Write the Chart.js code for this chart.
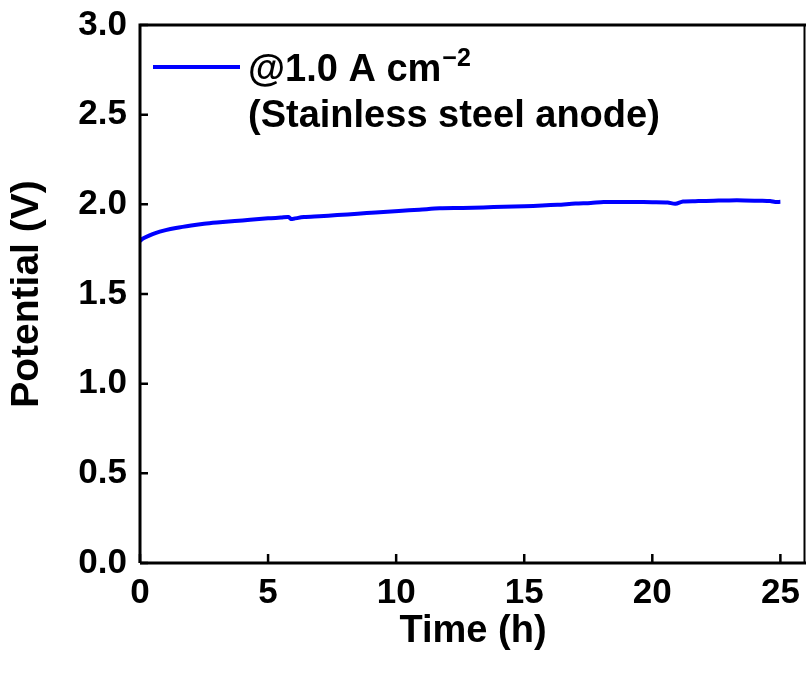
<!DOCTYPE html>
<html>
<head>
<meta charset="utf-8">
<script src="https://cdn.jsdelivr.net/npm/chart.js@4.4.1/dist/chart.umd.min.js"></script>
<style>
  html, body { margin: 0; padding: 0; background: #fff; }
  #wrap { width: 806px; height: 677px; }
</style>
</head>
<body>
<div id="wrap"><canvas id="myChart"></canvas></div>
<script>
// Chronopotentiometry at 1.0 A cm-2, stainless steel anode
var tiempo = [0, 0.1, 0.3, 0.6, 1.0, 1.4, 2.0, 2.5, 3.0, 3.7, 4.3, 5.0, 5.5, 5.8, 5.9, 6.0, 6.4, 7.0, 7.7, 8.5, 9.2, 10.1, 10.9, 11.7, 12.6, 13.4, 14.2, 15.0, 15.7, 16.3, 17.0, 17.6, 18.1, 18.7, 19.3, 20.0, 20.6, 20.9, 21.2, 21.8, 22.4, 23.0, 23.6, 24.2, 24.6, 24.8, 25.0];
var potencial = [1.796, 1.808, 1.822, 1.840, 1.856, 1.868, 1.882, 1.892, 1.899, 1.907, 1.914, 1.922, 1.926, 1.929, 1.918, 1.920, 1.929, 1.934, 1.940, 1.948, 1.955, 1.963, 1.970, 1.978, 1.980, 1.983, 1.987, 1.990, 1.993, 1.997, 2.004, 2.008, 2.013, 2.013, 2.013, 2.012, 2.010, 2.003, 2.016, 2.018, 2.020, 2.022, 2.022, 2.020, 2.018, 2.013, 2.014];
var ticks_x = [0, 5, 10, 15, 20, 25];
var ticks_y = [0.0, 0.5, 1.0, 1.5, 2.0, 2.5, 3.0];

var fonte = 'Arial, "Liberation Sans", sans-serif';

var pontos = tiempo.map(function (t, i) { return { x: t, y: potencial[i] }; });

// box, inward ticks and the two-line legend
var molduraPlugin = {
    id: 'moldura',
    afterDraw: function (chart) {
        var ctx = chart.ctx;
        var a = chart.chartArea;
        var sx = chart.scales.x, sy = chart.scales.y;
        ctx.save();
        ctx.strokeStyle = '#000';
        ctx.lineWidth = 3;
        ctx.beginPath();
        ctx.moveTo(a.left, a.bottom);
        ctx.lineTo(a.left, a.top);
        ctx.lineTo(a.right, a.top);
        ctx.moveTo(a.left, a.bottom);
        ctx.lineTo(a.right, a.bottom);
        ctx.stroke();
        // right edge sits on the canvas border, keep the visible half
        ctx.lineWidth = 2;
        ctx.beginPath();
        ctx.moveTo(a.right - 1.5, a.top);
        ctx.lineTo(a.right - 1.5, a.bottom);
        ctx.stroke();

        ctx.lineWidth = 2.5;
        ctx.beginPath();
        ticks_x.forEach(function (v) {
            var px = sx.getPixelForValue(v);
            ctx.moveTo(px, a.bottom);
            ctx.lineTo(px, a.bottom - 9);
        });
        ticks_y.forEach(function (v) {
            var py = sy.getPixelForValue(v);
            ctx.moveTo(a.left, py);
            ctx.lineTo(a.left + 8, py);
        });
        ctx.stroke();

        // legend
        var ds = chart.data.datasets[0];
        ctx.strokeStyle = ds.borderColor;
        ctx.lineWidth = 4;
        ctx.beginPath();
        ctx.moveTo(153, 67);
        ctx.lineTo(240, 67);
        ctx.stroke();
        ctx.fillStyle = '#000';
        ctx.textBaseline = 'alphabetic';
        ctx.textAlign = 'left';
        ctx.font = 'bold 38px ' + fonte;
        var t1 = '@1.0 A cm';
        ctx.fillText(t1, 248, 81);
        var w1 = ctx.measureText(t1).width;
        ctx.font = 'bold 25px ' + fonte;
        ctx.fillText('\u22122', 248 + w1 + 1, 66);
        ctx.font = 'bold 38px ' + fonte;
        ctx.fillText('(Stainless steel anode)', 248, 127);
        ctx.restore();
    }
};

var chart = new Chart(document.getElementById('myChart').getContext('2d'), {
    type: 'line',
    data: {
        datasets: [{
            label: '@1.0 A cm-2 (Stainless steel anode)',
            data: pontos,
            borderColor: '#0000ff',
            borderWidth: 4,
            pointRadius: 0,
            tension: 0.3,
            fill: false
        }]
    },
    options: {
        responsive: true,
        maintainAspectRatio: false,
        animation: false,
        layout: { padding: { top: 25, right: 0, left: 0, bottom: 0 } },
        plugins: {
            legend: { display: false },
            tooltip: { enabled: false }
        },
        scales: {
            x: {
                type: 'linear',
                min: 0,
                max: 26,
                afterFit: function (scale) {
                    scale.height = 114;
                    scale.paddingLeft = 0;
                    scale.paddingRight = 0;
                },
                afterBuildTicks: function (scale) {
                    scale.ticks = ticks_x.map(function (v) { return { value: v }; });
                },
                grid: { display: false, drawTicks: false },
                border: { display: false },
                ticks: {
                    color: '#000',
                    padding: 9,
                    font: { family: fonte, size: 35, weight: 'bold' },
                    callback: function (value) { return value; }
                },
                title: {
                    display: true,
                    text: 'Time (h)',
                    color: '#000',
                    font: { family: fonte, size: 38, weight: 'bold' },
                    padding: { top: 0, bottom: 23 }
                }
            },
            y: {
                min: 0,
                max: 3,
                afterFit: function (scale) {
                    scale.width = 140;
                    scale.paddingTop = 0;
                    scale.paddingBottom = 0;
                },
                afterBuildTicks: function (scale) {
                    scale.ticks = ticks_y.map(function (v) { return { value: v }; });
                },
                grid: { display: false, drawTicks: false },
                border: { display: false },
                ticks: {
                    color: '#000',
                    padding: 13,
                    font: { family: fonte, size: 35, weight: 'bold' },
                    callback: function (value) { return value.toFixed(1); }
                },
                title: {
                    display: true,
                    text: 'Potential (V)',
                    color: '#000',
                    font: { family: fonte, size: 39, weight: 'bold' },
                    padding: { top: 4, bottom: 0 }
                }
            }
        }
    },
    plugins: [molduraPlugin]
});
</script>
</body>
</html>
